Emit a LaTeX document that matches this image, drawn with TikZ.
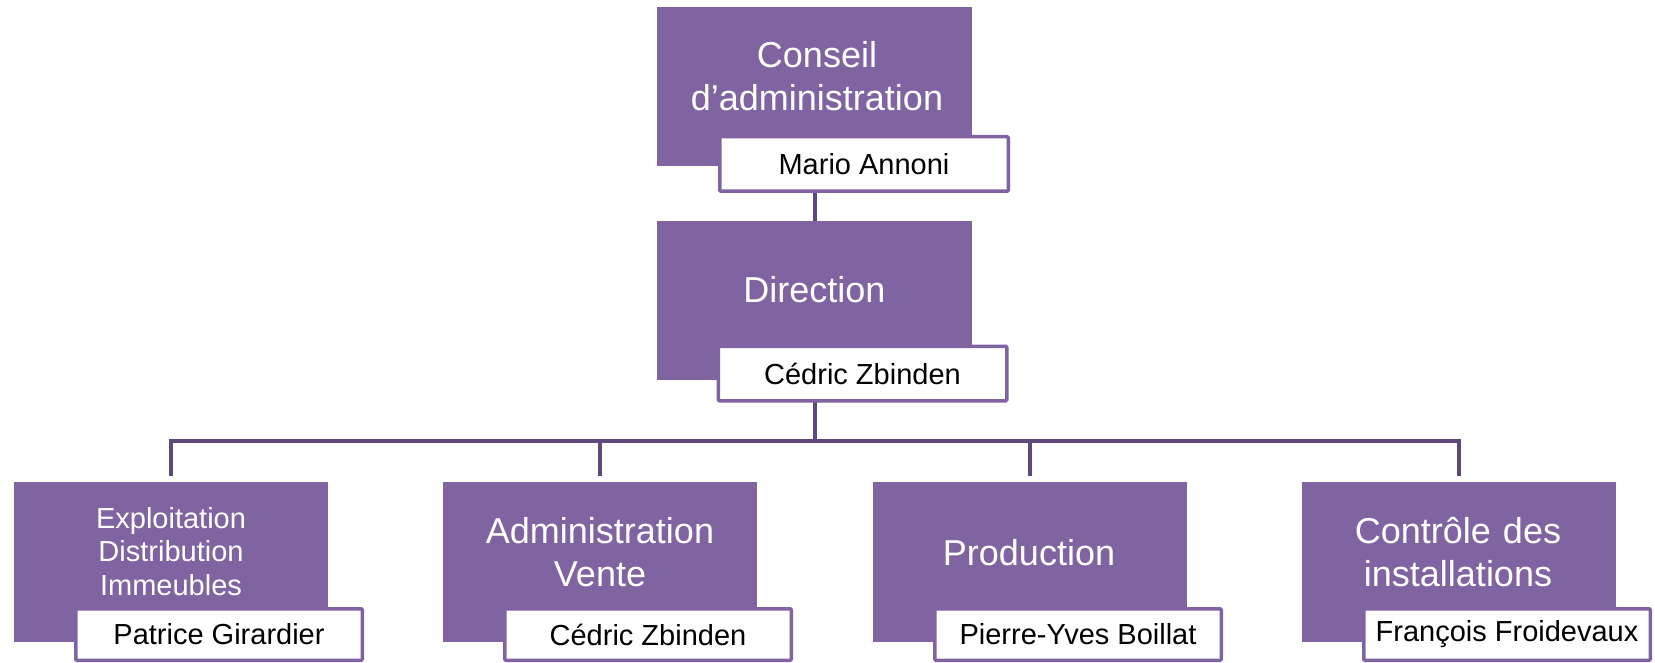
\documentclass[tikz,border=0pt]{standalone}
\usepackage{fontspec}
\setmainfont{Liberation Sans}
\usetikzlibrary{backgrounds}
\definecolor{boxpurple}{HTML}{8064A2}
\definecolor{linepurple}{HTML}{5F497A}
\begin{document}
\begin{tikzpicture}[x=1pt,y=-1pt,
  unitbox/.style={fill=boxpurple, draw=none, minimum width=315, minimum height=159, anchor=north west, inner sep=0, outer sep=0},
  lowbox/.style={unitbox, minimum width=314, minimum height=160},
  namebox/.style={fill=white, draw=boxpurple, line width=3.5pt, rounded corners=1pt, minimum width=286.5, minimum height=51.5, inner sep=0, outer sep=0, text=black, font=\fontsize{29}{34}\selectfont},
  topname/.style={namebox, minimum width=288.5, minimum height=54.5},
  title/.style={text=white, font=\fontsize{36}{43}\selectfont, align=center, text width=312, anchor=base, inner sep=0},
  smalltitle/.style={title, font=\fontsize{29}{33.5}\selectfont},
  conn/.style={draw=linepurple, line width=4pt}
]
\useasboundingbox (0,0) rectangle (1655,663);

% purple boxes
\node[unitbox] (cons) at (657,7) {};
\node[unitbox] (dir) at (657,221) {};
\node[lowbox] (b1) at (14,482) {};
\node[lowbox] (b2) at (443,482) {};
\node[lowbox] (b3) at (873,482) {};
\node[lowbox] (b4) at (1302,482) {};

% connectors (behind the boxes)
\coordinate (bus) at (814.5,441);
\begin{pgfonlayer}{background}
\draw[conn] (cons.south) -- (dir.north);
\draw[conn] (dir.south) -- (bus);
\draw[conn, shorten >=6pt] (bus) -| (b1.north);
\draw[conn, shorten >=6pt] (bus) -| (b2.north);
\draw[conn, shorten >=6pt] (bus) -| (b3.north);
\draw[conn, shorten >=6pt] (bus) -| (b4.north);
\end{pgfonlayer}

% titles
\node[title] (tcons) at (817,68) {Conseil\\d’administration};
\node[title] (tdir) at (814.5,302) {Direction};
\node[smalltitle] (tb1) at (171,528) {Exploitation\\Distribution\\Immeubles};
\node[title] (tb2) at (600,543) {Administration\\Vente};
\node[title] (tb3) at (1029,565) {Production};
\node[title] (tb4) at (1458,543) {Contrôle des\\installations};

% name boxes
\node[topname] (ncons) at (864,164) {Mario Annoni};
\node[topname] (ndir) at (862.5,373.5) {Cédric Zbinden};
\node[namebox] (nb1) at (219,634.5) {Patrice Girardier};
\node[namebox] (nb2) at (648,634.5) {Cédric Zbinden};
\node[namebox] (nb3) at (1078,634.5) {Pierre-Yves Boillat};
\node[namebox] (nb4) at (1507,634.5) {François Froidevaux};
\end{tikzpicture}
\end{document}
